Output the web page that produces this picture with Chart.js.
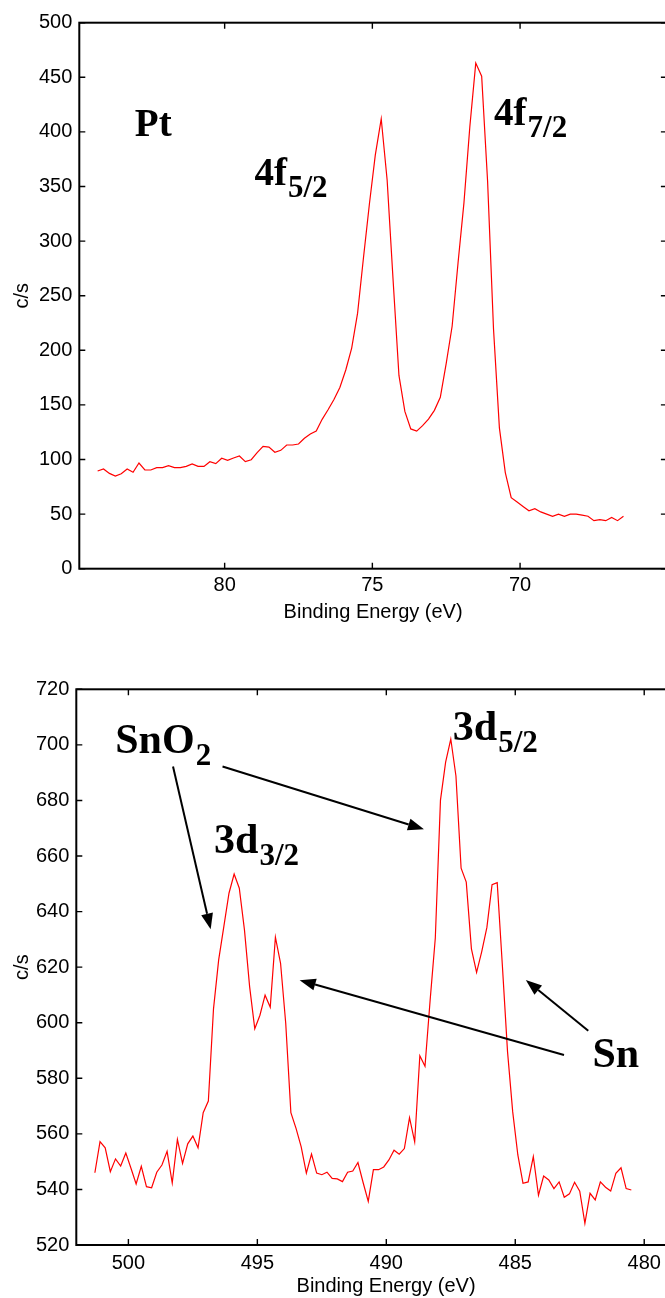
<!DOCTYPE html>
<html>
<head>
<meta charset="utf-8">
<script src="https://cdn.jsdelivr.net/npm/chart.js@4.4.1/dist/chart.umd.min.js"></script>
<style>
    html, body { margin: 0; padding: 0; background: #fff; overflow: hidden; width: 665px; height: 1298px; }
    #ptChart { position: absolute; left: 0; top: 0; }
    #snChart { position: absolute; left: 0; top: 650px; }
</style>
</head>
<body>
<canvas id="ptChart" width="672" height="640"></canvas>
<canvas id="snChart" width="700" height="660"></canvas>
<script>
// Pt 4f spectrum
const ptEnergy = [
    84.3, 84.1, 83.9, 83.7, 83.5, 83.3, 83.1, 82.9, 82.7, 82.5,
    82.3, 82.1, 81.9, 81.7, 81.5, 81.3, 81.1, 80.9, 80.7, 80.5,
    80.3, 80.1, 79.9, 79.7, 79.5, 79.3, 79.1, 78.9, 78.7, 78.5,
    78.3, 78.1, 77.9, 77.7, 77.5, 77.3, 77.1, 76.9, 76.7, 76.5,
    76.3, 76.1, 75.9, 75.7, 75.5, 75.3, 75.1, 74.9, 74.7, 74.5,
    74.3, 74.1, 73.9, 73.7, 73.5, 73.3, 73.1, 72.9, 72.7, 72.5,
    72.3, 72.1, 71.9, 71.7, 71.5, 71.3, 71.1, 70.9, 70.7, 70.5,
    70.3, 70.1, 69.9, 69.7, 69.5, 69.3, 69.1, 68.9, 68.7, 68.5,
    68.3, 68.1, 67.9, 67.7, 67.5, 67.3, 67.1, 66.9, 66.7, 66.5
];
const ptCounts = [
    89.5, 91.3, 87.3, 84.9, 87.0, 91.3, 88.3, 96.8, 90.4, 90.4,
    92.5, 92.5, 94.3, 92.5, 92.5, 93.7, 95.9, 93.7, 93.7, 98.0,
    96.2, 101.1, 99.2, 101.4, 103.2, 98.0, 99.8, 106.3, 112.1, 111.4,
    106.6, 108.4, 113.3, 113.3, 114.2, 119.4, 123.4, 126.1, 136.8, 145.5,
    155, 166, 182, 202, 234, 285, 334, 379, 412, 356,
    265, 177, 144, 128, 126, 131, 137, 145, 157, 188,
    222, 280, 335, 405, 463, 451, 355, 220, 129, 88,
    65, 61, 57, 53, 55, 52, 50, 48, 50, 48,
    50, 50, 49, 48, 44, 45, 44, 47, 44, 48
];
const ptXTicks = [70, 75, 80];

// Sn 3d spectrum
const snEnergy = [
    501.3, 501.1, 500.9, 500.7, 500.5, 500.3, 500.1, 499.9, 499.7, 499.5,
    499.3, 499.1, 498.9, 498.7, 498.5, 498.3, 498.1, 497.9, 497.7, 497.5,
    497.3, 497.1, 496.9, 496.7, 496.5, 496.3, 496.1, 495.9, 495.7, 495.5,
    495.3, 495.1, 494.9, 494.7, 494.5, 494.3, 494.1, 493.9, 493.7, 493.5,
    493.3, 493.1, 492.9, 492.7, 492.5, 492.3, 492.1, 491.9, 491.7, 491.5,
    491.3, 491.1, 490.9, 490.7, 490.5, 490.3, 490.1, 489.9, 489.7, 489.5,
    489.3, 489.1, 488.9, 488.7, 488.5, 488.3, 488.1, 487.9, 487.7, 487.5,
    487.3, 487.1, 486.9, 486.7, 486.5, 486.3, 486.1, 485.9, 485.7, 485.5,
    485.3, 485.1, 484.9, 484.7, 484.5, 484.3, 484.1, 483.9, 483.7, 483.5,
    483.3, 483.1, 482.9, 482.7, 482.5, 482.3, 482.1, 481.9, 481.7, 481.5,
    481.3, 481.1, 480.9, 480.7, 480.5
];
const snCounts = [
    546.0, 557.2, 555.0, 546.4, 551.0, 548.4, 553.1, 547.6, 542.0, 548.3,
    541.0, 540.6, 546.2, 548.8, 553.7, 542.3, 558.0, 549.4, 556.4, 559.2,
    555.0, 567.6, 571.8, 605.0, 622.6, 634.6, 646.6, 653.5, 648.4, 633.4,
    613.0, 597.8, 602.7, 609.9, 605.6, 630.8, 621.4, 599.8, 567.6, 562.0,
    555.3, 545.9, 552.7, 545.9, 545.3, 546.2, 544.0, 543.8, 542.8, 546.2,
    546.6, 549.7, 542.5, 535.7, 547.1, 547.1, 548.1, 550.6, 554.1, 552.7,
    554.7, 565.8, 557.1, 588.1, 584.3, 608.2, 630.5, 680.1, 693.8, 702.1,
    688.8, 655.6, 650.6, 626.6, 618.1, 625.6, 634.3, 649.7, 650.4, 620.6,
    589.6, 568.0, 552.4, 542.2, 542.7, 551.8, 537.9, 544.8, 543.4, 540.3,
    542.7, 537.2, 538.4, 542.6, 539.4, 527.8, 538.6, 536.2, 542.7, 540.8,
    539.4, 545.8, 547.8, 540.3, 539.8
];
const snXTicks = [480, 485, 490, 495, 500];

// annotations, placed in data units
const ptNotes = [
    { text: 'Pt', sub: '', x: 83.04, y: 396 },
    { text: '4f', sub: '5/2', x: 78.99, y: 351.3 },
    { text: '4f', sub: '7/2', x: 70.88, y: 406.3 }
];
const snNotes = [
    { text: 'SnO', sub: '2', x: 500.51, y: 697.0 },
    { text: '3d', sub: '5/2', x: 487.42, y: 701.8 },
    { text: '3d', sub: '3/2', x: 496.68, y: 661.2 },
    { text: 'Sn', sub: '', x: 482.01, y: 584.0 }
];
const snArrows = [
    { from: [498.27, 692.2], to: [496.81, 633.6] },
    { from: [496.35, 692.2], to: [488.54, 669.6] },
    { from: [483.11, 588.4], to: [493.36, 615.3] },
    { from: [482.17, 597.1], to: [484.59, 615.4] }
];

const tickFont = { family: '"Liberation Sans", Arial, sans-serif', size: 20 };

// MATLAB style box with inward ticks
const boxPlugin = {
    id: 'box',
    afterDatasetsDraw(chart) {
        const { ctx, chartArea: a, scales: { x, y } } = chart;
        ctx.save();
        ctx.strokeStyle = '#000';
        ctx.lineWidth = 2;
        ctx.strokeRect(a.left, a.top, a.right - a.left, a.bottom - a.top);
        ctx.lineWidth = 1.4;
        ctx.beginPath();
        x.ticks.forEach(t => {
            const px = x.getPixelForValue(t.value);
            ctx.moveTo(px, a.bottom); ctx.lineTo(px, a.bottom - 6);
            ctx.moveTo(px, a.top); ctx.lineTo(px, a.top + 6);
        });
        y.ticks.forEach(t => {
            const py = y.getPixelForValue(t.value);
            ctx.moveTo(a.left, py); ctx.lineTo(a.left + 6, py);
            ctx.moveTo(a.right, py); ctx.lineTo(a.right - 6, py);
        });
        ctx.stroke();
        ctx.restore();
    }
};

function makeNotesPlugin(notes, arrows, size, subSize) {
    return {
        id: 'notes',
        afterDraw(chart) {
            const { ctx, scales: { x, y } } = chart;
            ctx.save();
            ctx.fillStyle = '#000';
            ctx.textBaseline = 'alphabetic';
            notes.forEach(n => {
                const px = x.getPixelForValue(n.x);
                const py = y.getPixelForValue(n.y);
                ctx.font = `bold ${size}px "Liberation Serif", serif`;
                ctx.fillText(n.text, px, py);
                if (n.sub) {
                    const w = ctx.measureText(n.text).width;
                    ctx.font = `bold ${subSize}px "Liberation Serif", serif`;
                    ctx.fillText(n.sub, px + w + 1, py + 12);
                }
            });
            ctx.strokeStyle = '#000';
            ctx.lineWidth = 2;
            arrows.forEach(ar => {
                const x0 = x.getPixelForValue(ar.from[0]), y0 = y.getPixelForValue(ar.from[1]);
                const x1 = x.getPixelForValue(ar.to[0]), y1 = y.getPixelForValue(ar.to[1]);
                const ang = Math.atan2(y1 - y0, x1 - x0);
                const len = 16, half = 6;
                const bx = x1 - len * Math.cos(ang), by = y1 - len * Math.sin(ang);
                ctx.beginPath();
                ctx.moveTo(x0, y0);
                ctx.lineTo(bx, by);
                ctx.stroke();
                ctx.beginPath();
                ctx.moveTo(x1, y1);
                ctx.lineTo(bx + half * Math.sin(ang), by - half * Math.cos(ang));
                ctx.lineTo(bx - half * Math.sin(ang), by + half * Math.cos(ang));
                ctx.closePath();
                ctx.fill();
            });
            ctx.restore();
        }
    };
}

function buildChart(id, cfg) {
    const points = cfg.energy.map((e, i) => ({ x: e, y: cfg.counts[i] }));
    return new Chart(document.getElementById(id), {
        type: 'line',
        data: {
            datasets: [{
                data: points,
                borderColor: '#ff0000',
                borderWidth: 1.2,
                pointRadius: 0,
                tension: 0,
                fill: false
            }]
        },
        options: {
            responsive: false,
            animation: false,
            layout: { padding: cfg.padding },
            plugins: { legend: { display: false }, tooltip: { enabled: false } },
            scales: {
                x: {
                    type: 'linear',
                    reverse: true,
                    min: cfg.xMin,
                    max: cfg.xMax,
                    afterBuildTicks: axis => { axis.ticks = cfg.xTicks.map(v => ({ value: v })); },
                    afterFit: axis => { axis.height = cfg.xAxisHeight; },
                    ticks: { color: '#000', font: tickFont, padding: cfg.xLabelPad, maxRotation: 0 },
                    grid: { display: false, drawTicks: false },
                    border: { display: false },
                    title: {
                        display: true,
                        text: 'Binding Energy (eV)',
                        color: '#000',
                        font: tickFont,
                        padding: { top: 0, bottom: cfg.xTitlePad }
                    }
                },
                y: {
                    min: cfg.yMin,
                    max: cfg.yMax,
                    ticks: { stepSize: cfg.yStep, color: '#000', font: tickFont, padding: 7 },
                    afterFit: axis => { axis.width = cfg.yAxisWidth; },
                    grid: { display: false, drawTicks: false },
                    border: { display: false },
                    title: {
                        display: true,
                        text: 'c/s',
                        color: '#000',
                        font: tickFont,
                        padding: { top: 10, bottom: 0 }
                    }
                }
            }
        },
        plugins: [boxPlugin, makeNotesPlugin(cfg.notes, cfg.arrows, cfg.noteSize, cfg.subSize)]
    });
}

buildChart('ptChart', {
    energy: ptEnergy, counts: ptCounts, xTicks: ptXTicks,
    xMin: 65.03, xMax: 84.92, yMin: 0, yMax: 500, yStep: 50,
    padding: { left: 0, top: 22.7, right: 5.1, bottom: 0 },
    yAxisWidth: 79.3, xAxisHeight: 71.3, xLabelPad: 5, xTitlePad: 16,
    notes: ptNotes, arrows: [], noteSize: 39, subSize: 31
});

buildChart('snChart', {
    energy: snEnergy, counts: snCounts, xTicks: snXTicks,
    xMin: 478, xMax: 502.02, yMin: 520, yMax: 720, yStep: 20,
    padding: { left: 0, top: 39.3, right: 4.2, bottom: 0 },
    yAxisWidth: 76.3, xAxisHeight: 65, xLabelPad: 6, xTitlePad: 12,
    notes: snNotes, arrows: snArrows, noteSize: 42, subSize: 31
});
</script>
</body>
</html>
